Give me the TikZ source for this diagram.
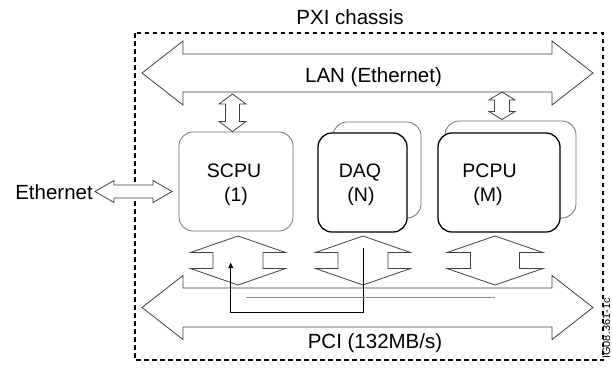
\documentclass[tikz,border=0pt]{standalone}
\usepackage{fontspec}
\setmainfont{Liberation Sans}
\usetikzlibrary{arrows.meta}

% Horizontal block double arrow: x-left tip, x-right tip, y centre,
% shaft half-thickness, head half-width, head length
\newcommand\blockarrowH[6]{%
  \draw[fat] (#1,#3) -- ({#1+#6},{#3-#5}) -- ({#1+#6},{#3-#4}) -- ({#2-#6},{#3-#4})
    -- ({#2-#6},{#3-#5}) -- (#2,#3) -- ({#2-#6},{#3+#5}) -- ({#2-#6},{#3+#4})
    -- ({#1+#6},{#3+#4}) -- ({#1+#6},{#3+#5}) -- cycle;}
% Vertical block double arrow: x centre, y top tip, y bottom tip,
% shaft half-width, head half-width, head length
\newcommand\blockarrowV[6]{%
  \draw[fat] (#1,#2) -- ({#1+#5},{#2+#6}) -- ({#1+#4},{#2+#6}) -- ({#1+#4},{#3-#6})
    -- ({#1+#5},{#3-#6}) -- (#1,#3) -- ({#1-#5},{#3-#6}) -- ({#1-#4},{#3-#6})
    -- ({#1-#4},{#2+#6}) -- ({#1-#5},{#2+#6}) -- cycle;}

\begin{document}
\begin{tikzpicture}[x=1pt,y=-1pt,
  fat/.style={draw=black!75, line width=0.8pt, fill=white, line join=miter},
  chassis/.style={draw=black, line width=1.3pt, dash pattern=on 4.5pt off 3.5pt},
  cardback/.style={draw=black!55, line width=0.8pt, rounded corners=14pt, fill=white, inner sep=0pt},
  cardfront/.style={draw=black, line width=1.3pt, rounded corners=14pt, fill=white, inner sep=0pt},
  biglabel/.style={font=\fontsize{20.5}{24}\selectfont, inner sep=0pt},
  cardlabel/.style={font=\fontsize{19.5}{24}\selectfont, inner sep=0pt, anchor=base},
  route/.style={draw=black, line width=0.8pt},
  ghostline/.style={draw=black!45, line width=0.9pt}]

\useasboundingbox (0,0) rectangle (612,367);

% chassis outline and title
\draw[chassis] (135,33) rectangle (603,360);
\node[biglabel, anchor=base] (title) at (350,24) {PXI chassis};

% LAN bus
\blockarrowH{142}{593}{73}{19}{32}{41}
\node[biglabel, anchor=base] (lan) at (373.5,82) {LAN (Ethernet)};

% PCI bus
\blockarrowH{142}{593}{307.5}{19.5}{32}{41}
\node[biglabel, anchor=base] (pci) at (375,348.5) {PCI (132MB/s)};

% external Ethernet link
\node[biglabel, anchor=base east] (eth) at (93,199) {Ethernet};
\blockarrowH{95}{172}{191.5}{6.5}{11}{19}

% SCPU card
\node[cardback, minimum width=114pt, minimum height=99pt] (scpu) at (236,181.5) {};
\node[cardlabel] (scpuname) at (234,177) {SCPU};
\node[cardlabel] (scpunum) at (236,201) {(1)};

% DAQ cards (stacked)
\node[cardback, minimum width=88pt, minimum height=96pt] (daqback) at (377,170) {};
\node[cardfront, minimum width=89pt, minimum height=99pt] (daq) at (362.5,182.5) {};
\node[cardlabel] (daqname) at (360,177) {DAQ};
\node[cardlabel] (daqnum) at (361,201) {(N)};

% PCPU cards (stacked)
\node[cardback, minimum width=131pt, minimum height=97pt] (pcpuback) at (510.5,169.5) {};
\node[cardfront, minimum width=122pt, minimum height=99pt] (pcpu) at (499,182.5) {};
\node[cardlabel] (pcpuname) at (489.5,177) {PCPU};
\node[cardlabel] (pcpunum) at (488,201) {(M)};

% LAN taps
\blockarrowV{232.5}{94}{131.5}{7}{13.5}{10}
\blockarrowV{502}{92}{119.5}{7.5}{13}{8}

% PCI slot connectors
\blockarrowV{238}{236}{285}{25}{47.5}{16.5}
\blockarrowV{363}{236}{285}{25}{47.5}{16.5}
\blockarrowV{495}{236}{285}{24.5}{48}{16.5}

% data path from DAQ to SCPU over the backplane
\coordinate (src) at (363.3,248);
\coordinate (srcdown) at (363.3,312.3);
\coordinate (dstdown) at (230.7,312.3);
\coordinate (dst) at (230.7,262.7);
\draw[route, -{Triangle[length=5.5pt, width=5pt]}] (src) -- (srcdown) -- (dstdown) -- (dst);

\coordinate (ghostA) at (246,297);
\coordinate (ghostB) at (495,297);
\draw[ghostline] (ghostA) -- (ghostB);

% figure tag
\node[font=\fontsize{11}{13}\selectfont, rotate=90, anchor=base east, inner sep=0pt] (tag) at (610,298) {IG08.361-1c};
\end{tikzpicture}
\end{document}
